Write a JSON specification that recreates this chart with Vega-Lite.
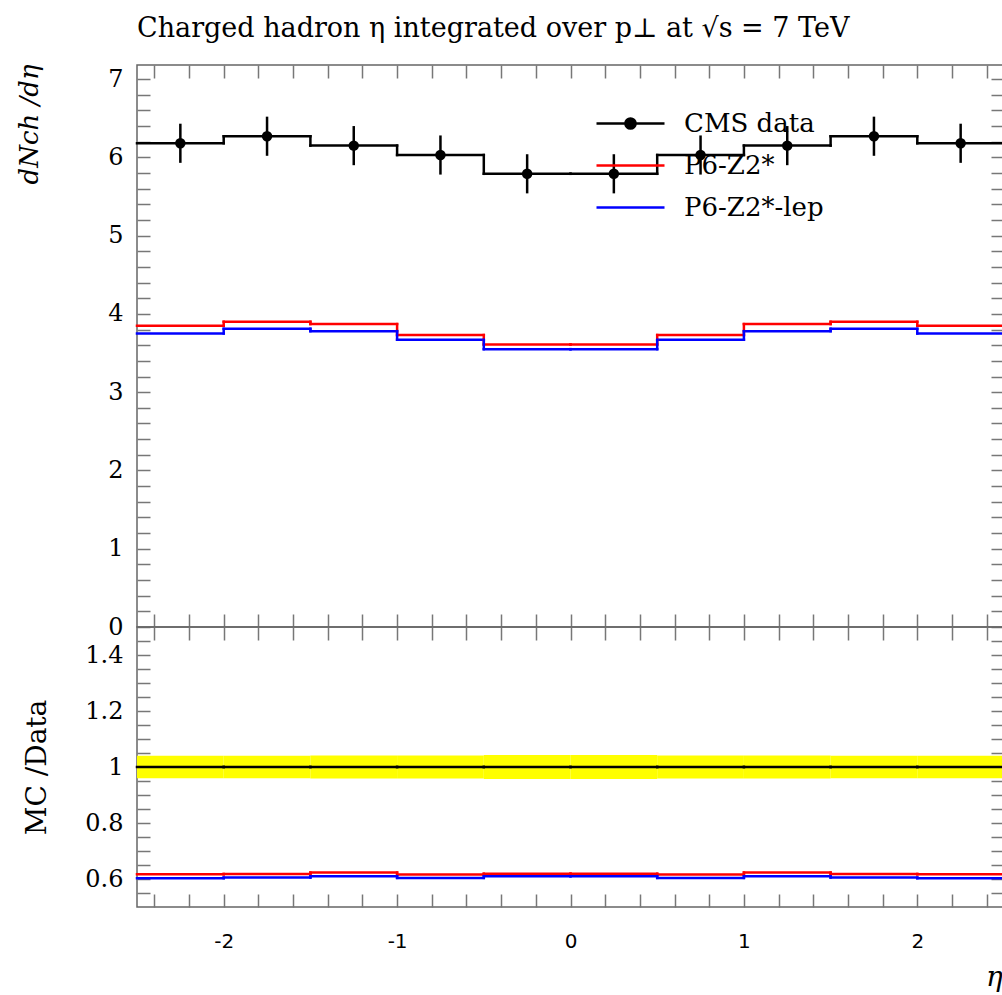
{
  "$schema": "https://vega.github.io/schema/vega-lite/v6.json",
  "background": "white",
  "padding": {"left": 15, "top": 14, "right": 0, "bottom": 0},
  "config": {
    "view": {"stroke": "#666666", "strokeWidth": 1.5},
    "axis": {"tickColor": "#777777", "tickWidth": 1.5, "minExtent": 0, "grid": false, "domain": false},
    "font": "DejaVu Serif"
  },
  "datasets": {
    "hist": [
      {"series": "P6-Z2*", "lo": -2.5, "hi": -2.0, "val": 3.85, "next": 3.90},
      {"series": "P6-Z2*", "lo": -2.0, "hi": -1.5, "val": 3.90, "next": 3.87},
      {"series": "P6-Z2*", "lo": -1.5, "hi": -1.0, "val": 3.87, "next": 3.73},
      {"series": "P6-Z2*", "lo": -1.0, "hi": -0.5, "val": 3.73, "next": 3.61},
      {"series": "P6-Z2*", "lo": -0.5, "hi": 0.0, "val": 3.61, "next": 3.61},
      {"series": "P6-Z2*", "lo": 0.0, "hi": 0.5, "val": 3.61, "next": 3.73},
      {"series": "P6-Z2*", "lo": 0.5, "hi": 1.0, "val": 3.73, "next": 3.87},
      {"series": "P6-Z2*", "lo": 1.0, "hi": 1.5, "val": 3.87, "next": 3.90},
      {"series": "P6-Z2*", "lo": 1.5, "hi": 2.0, "val": 3.90, "next": 3.85},
      {"series": "P6-Z2*", "lo": 2.0, "hi": 2.5, "val": 3.85, "next": null},
      {"series": "P6-Z2*-lep", "lo": -2.5, "hi": -2.0, "val": 3.75, "next": 3.81},
      {"series": "P6-Z2*-lep", "lo": -2.0, "hi": -1.5, "val": 3.81, "next": 3.78},
      {"series": "P6-Z2*-lep", "lo": -1.5, "hi": -1.0, "val": 3.78, "next": 3.67},
      {"series": "P6-Z2*-lep", "lo": -1.0, "hi": -0.5, "val": 3.67, "next": 3.55},
      {"series": "P6-Z2*-lep", "lo": -0.5, "hi": 0.0, "val": 3.55, "next": 3.55},
      {"series": "P6-Z2*-lep", "lo": 0.0, "hi": 0.5, "val": 3.55, "next": 3.67},
      {"series": "P6-Z2*-lep", "lo": 0.5, "hi": 1.0, "val": 3.67, "next": 3.78},
      {"series": "P6-Z2*-lep", "lo": 1.0, "hi": 1.5, "val": 3.78, "next": 3.81},
      {"series": "P6-Z2*-lep", "lo": 1.5, "hi": 2.0, "val": 3.81, "next": 3.75},
      {"series": "P6-Z2*-lep", "lo": 2.0, "hi": 2.5, "val": 3.75, "next": null},
      {"series": "CMS data", "lo": -2.5, "hi": -2.0, "val": 6.18, "next": 6.27},
      {"series": "CMS data", "lo": -2.0, "hi": -1.5, "val": 6.27, "next": 6.15},
      {"series": "CMS data", "lo": -1.5, "hi": -1.0, "val": 6.15, "next": 6.03},
      {"series": "CMS data", "lo": -1.0, "hi": -0.5, "val": 6.03, "next": 5.79},
      {"series": "CMS data", "lo": -0.5, "hi": 0.0, "val": 5.79, "next": 5.79},
      {"series": "CMS data", "lo": 0.0, "hi": 0.5, "val": 5.79, "next": 6.03},
      {"series": "CMS data", "lo": 0.5, "hi": 1.0, "val": 6.03, "next": 6.15},
      {"series": "CMS data", "lo": 1.0, "hi": 1.5, "val": 6.15, "next": 6.27},
      {"series": "CMS data", "lo": 1.5, "hi": 2.0, "val": 6.27, "next": 6.18},
      {"series": "CMS data", "lo": 2.0, "hi": 2.5, "val": 6.18, "next": null}
    ],
    "pts": [
      {"eta": -2.25, "val": 6.18, "ylo": 5.93, "yhi": 6.43},
      {"eta": -1.75, "val": 6.27, "ylo": 6.02, "yhi": 6.52},
      {"eta": -1.25, "val": 6.15, "ylo": 5.90, "yhi": 6.40},
      {"eta": -0.75, "val": 6.03, "ylo": 5.78, "yhi": 6.28},
      {"eta": -0.25, "val": 5.79, "ylo": 5.54, "yhi": 6.04},
      {"eta": 0.25, "val": 5.79, "ylo": 5.54, "yhi": 6.04},
      {"eta": 0.75, "val": 6.03, "ylo": 5.78, "yhi": 6.28},
      {"eta": 1.25, "val": 6.15, "ylo": 5.90, "yhi": 6.40},
      {"eta": 1.75, "val": 6.27, "ylo": 6.02, "yhi": 6.52},
      {"eta": 2.25, "val": 6.18, "ylo": 5.93, "yhi": 6.43}
    ],
    "ratio": [
      {"series": "CMS data", "lo": -2.5, "hi": -2.0, "val": 1, "next": 1, "elo": 0.960, "ehi": 1.040},
      {"series": "CMS data", "lo": -2.0, "hi": -1.5, "val": 1, "next": 1, "elo": 0.960, "ehi": 1.040},
      {"series": "CMS data", "lo": -1.5, "hi": -1.0, "val": 1, "next": 1, "elo": 0.959, "ehi": 1.041},
      {"series": "CMS data", "lo": -1.0, "hi": -0.5, "val": 1, "next": 1, "elo": 0.959, "ehi": 1.041},
      {"series": "CMS data", "lo": -0.5, "hi": 0.0, "val": 1, "next": 1, "elo": 0.957, "ehi": 1.043},
      {"series": "CMS data", "lo": 0.0, "hi": 0.5, "val": 1, "next": 1, "elo": 0.957, "ehi": 1.043},
      {"series": "CMS data", "lo": 0.5, "hi": 1.0, "val": 1, "next": 1, "elo": 0.959, "ehi": 1.041},
      {"series": "CMS data", "lo": 1.0, "hi": 1.5, "val": 1, "next": 1, "elo": 0.959, "ehi": 1.041},
      {"series": "CMS data", "lo": 1.5, "hi": 2.0, "val": 1, "next": 1, "elo": 0.960, "ehi": 1.040},
      {"series": "CMS data", "lo": 2.0, "hi": 2.5, "val": 1, "next": null, "elo": 0.960, "ehi": 1.040},
      {"series": "P6-Z2*", "lo": -2.5, "hi": -2.0, "val": 0.617, "next": 0.618},
      {"series": "P6-Z2*", "lo": -2.0, "hi": -1.5, "val": 0.618, "next": 0.623},
      {"series": "P6-Z2*", "lo": -1.5, "hi": -1.0, "val": 0.623, "next": 0.616},
      {"series": "P6-Z2*", "lo": -1.0, "hi": -0.5, "val": 0.616, "next": 0.619},
      {"series": "P6-Z2*", "lo": -0.5, "hi": 0.0, "val": 0.619, "next": 0.619},
      {"series": "P6-Z2*", "lo": 0.0, "hi": 0.5, "val": 0.619, "next": 0.616},
      {"series": "P6-Z2*", "lo": 0.5, "hi": 1.0, "val": 0.616, "next": 0.623},
      {"series": "P6-Z2*", "lo": 1.0, "hi": 1.5, "val": 0.623, "next": 0.618},
      {"series": "P6-Z2*", "lo": 1.5, "hi": 2.0, "val": 0.618, "next": 0.617},
      {"series": "P6-Z2*", "lo": 2.0, "hi": 2.5, "val": 0.617, "next": null},
      {"series": "P6-Z2*-lep", "lo": -2.5, "hi": -2.0, "val": 0.603, "next": 0.605},
      {"series": "P6-Z2*-lep", "lo": -2.0, "hi": -1.5, "val": 0.605, "next": 0.610},
      {"series": "P6-Z2*-lep", "lo": -1.5, "hi": -1.0, "val": 0.610, "next": 0.604},
      {"series": "P6-Z2*-lep", "lo": -1.0, "hi": -0.5, "val": 0.604, "next": 0.610},
      {"series": "P6-Z2*-lep", "lo": -0.5, "hi": 0.0, "val": 0.610, "next": 0.610},
      {"series": "P6-Z2*-lep", "lo": 0.0, "hi": 0.5, "val": 0.610, "next": 0.604},
      {"series": "P6-Z2*-lep", "lo": 0.5, "hi": 1.0, "val": 0.604, "next": 0.610},
      {"series": "P6-Z2*-lep", "lo": 1.0, "hi": 1.5, "val": 0.610, "next": 0.605},
      {"series": "P6-Z2*-lep", "lo": 1.5, "hi": 2.0, "val": 0.605, "next": 0.603},
      {"series": "P6-Z2*-lep", "lo": 2.0, "hi": 2.5, "val": 0.603, "next": null}
    ]
  },
  "vconcat": [
    {
      "width": 867,
      "height": 562,
      "title": {"text": "Charged hadron η integrated over p⊥ at √s = 7 TeV", "anchor": "start", "frame": "group", "font": "DejaVu Serif", "fontSize": 27, "fontWeight": "normal", "color": "black", "baseline": "alphabetic", "offset": 0},
      "resolve": {"axis": {"x": "independent", "y": "independent"}},
      "layer": [
        {
          "data": {"name": "hist"},
          "mark": {"type": "rule", "strokeWidth": 2.5, "strokeCap": "square"},
          "encoding": {
            "x": {"field": "lo", "type": "quantitative", "scale": {"domain": [-2.5, 2.5], "nice": false, "zero": false},
              "axis": {"orient": "bottom", "values": [-2.4,-2.2,-2,-1.8,-1.6,-1.4,-1.2,-1,-0.8,-0.6,-0.4,-0.2,0,0.2,0.4,0.6,0.8,1,1.2,1.4,1.6,1.8,2,2.2,2.4], "labels": false, "title": null, "ticks": true, "tickSize": -13,
                "encode": {"ticks": {"update": {"y2": {"signal": "abs(datum.value-round(datum.value))<0.01 ? -30 : -13"}}}}}},
            "x2": {"field": "hi"},
            "y": {"field": "val", "type": "quantitative", "scale": {"domain": [0, 7.18], "nice": false, "zero": false},
              "axis": {"orient": "left", "values": [0,0.2,0.4,0.6,0.8,1,1.2,1.4,1.6,1.8,2,2.2,2.4,2.6,2.8,3,3.2,3.4,3.6,3.8,4,4.2,4.4,4.6,4.8,5,5.2,5.4,5.6,5.8,6,6.2,6.4,6.6,6.8,7], "ticks": true, "tickSize": -13, "labelPadding": 27,
                "labelExpr": "abs(datum.value-round(datum.value))<0.01 ? ''+round(datum.value) : ''",
                "labelFont": "DejaVu Serif", "labelFontSize": 24, "labelColor": "black", "labelOverlap": false, "labelFlush": false, "labelBound": false,
                "title": "dNch /dη", "titleFont": "DejaVu Serif", "titleFontSize": 26, "titleFontStyle": "italic", "titleFontWeight": "normal", "titleColor": "black",
                "titleAngle": 270, "titleAlign": "right", "titleBaseline": "middle", "titleX": -108, "titleY": -1,
                "encode": {"ticks": {"update": {"x2": {"signal": "abs(datum.value-round(datum.value))<0.01 ? 27 : 13"}}}}}},
            "color": {"field": "series", "type": "nominal",
              "scale": {"domain": ["CMS data", "P6-Z2*", "P6-Z2*-lep"], "range": ["#000000", "#ff0000", "#0000ff"]},
              "legend": {"orient": "none", "legendX": 475, "legendY": 40, "title": null, "padding": 0,
                "labelFont": "DejaVu Serif", "labelFontSize": 26, "labelColor": "black", "labelOffset": 35,
                "symbolType": "M-2,0H2", "symbolSize": 1156, "symbolStrokeWidth": 2.5, "rowPadding": 10,
                "encode": {"symbols": {"update": {
                  "shape": {"signal": "datum.value === 'CMS data' ? 'M-2,0H2M-0.3,0A0.3,0.3,0,1,0,0.3,0A0.3,0.3,0,1,0,-0.3,0' : 'M-2,0H2'"},
                  "fill": {"value": "black"}, "fillOpacity": {"value": 1}}}}}}
          }
        },
        {
          "data": {"name": "hist"},
          "transform": [{"filter": "datum.next != null"}],
          "mark": {"type": "rule", "strokeWidth": 2.5, "strokeCap": "square"},
          "encoding": {
            "x": {"field": "hi", "type": "quantitative", "scale": {"domain": [-2.5, 2.5], "nice": false, "zero": false},
              "axis": {"orient": "top", "values": [-2.4,-2.2,-2,-1.8,-1.6,-1.4,-1.2,-1,-0.8,-0.6,-0.4,-0.2,0,0.2,0.4,0.6,0.8,1,1.2,1.4,1.6,1.8,2,2.2,2.4], "labels": false, "title": null, "ticks": true, "tickSize": -13,
                "encode": {"ticks": {"update": {"y2": {"signal": "abs(datum.value-round(datum.value))<0.01 ? 30 : 13"}}}}}},
            "y": {"field": "val", "type": "quantitative", "scale": {"domain": [0, 7.18], "nice": false, "zero": false},
              "axis": {"orient": "right", "values": [0,0.2,0.4,0.6,0.8,1,1.2,1.4,1.6,1.8,2,2.2,2.4,2.6,2.8,3,3.2,3.4,3.6,3.8,4,4.2,4.4,4.6,4.8,5,5.2,5.4,5.6,5.8,6,6.2,6.4,6.6,6.8,7], "labels": false, "title": null, "ticks": true, "tickSize": -13,
                "encode": {"ticks": {"update": {"x2": {"signal": "abs(datum.value-round(datum.value))<0.01 ? -27 : -13"}}}}}},
            "y2": {"field": "next"},
            "color": {"field": "series", "type": "nominal",
              "scale": {"domain": ["CMS data", "P6-Z2*", "P6-Z2*-lep"], "range": ["#000000", "#ff0000", "#0000ff"]}, "legend": null}
          }
        },
        {
          "data": {"name": "pts"},
          "mark": {"type": "rule", "strokeWidth": 2.5, "color": "black"},
          "encoding": {
            "x": {"field": "eta", "type": "quantitative", "axis": null},
            "y": {"field": "ylo", "type": "quantitative", "axis": null},
            "y2": {"field": "yhi"}
          }
        },
        {
          "data": {"name": "pts"},
          "mark": {"type": "circle", "size": 110, "color": "black", "opacity": 1},
          "encoding": {
            "x": {"field": "eta", "type": "quantitative", "axis": null},
            "y": {"field": "val", "type": "quantitative", "axis": null}
          }
        }
      ]
    },
    {
      "width": 867,
      "height": 280,
      "resolve": {"axis": {"x": "independent", "y": "independent"}},
      "layer": [
        {
          "data": {"name": "ratio"},
          "transform": [{"filter": "datum.series === 'CMS data'"}],
          "mark": {"type": "rect", "color": "#ffff00", "opacity": 1},
          "encoding": {
            "x": {"field": "lo", "type": "quantitative", "scale": {"domain": [-2.5, 2.5], "nice": false, "zero": false},
              "axis": {"orient": "bottom", "values": [-2.4,-2.2,-2,-1.8,-1.6,-1.4,-1.2,-1,-0.8,-0.6,-0.4,-0.2,0,0.2,0.4,0.6,0.8,1,1.2,1.4,1.6,1.8,2,2.2,2.4], "ticks": true, "tickSize": -13, "labelPadding": 37,
                "labelExpr": "abs(datum.value-round(datum.value))<0.01 ? ''+round(datum.value) : ''",
                "labelFont": "DejaVu Sans", "labelFontSize": 20, "labelColor": "black", "labelOverlap": false, "labelFlush": false, "labelBound": false,
                "title": "η", "titleFont": "DejaVu Serif", "titleFontSize": 28, "titleFontStyle": "italic", "titleFontWeight": "normal", "titleColor": "black",
                "titleX": 857, "titleY": 70, "titleAlign": "center", "titleBaseline": "middle",
                "encode": {"ticks": {"update": {"y2": {"signal": "abs(datum.value-round(datum.value))<0.01 ? -30 : -13"}}}}}},
            "x2": {"field": "hi"},
            "y": {"field": "elo", "type": "quantitative", "scale": {"domain": [0.5, 1.5], "nice": false, "zero": false},
              "axis": {"orient": "left", "values": [0.55,0.6,0.65,0.7,0.75,0.8,0.85,0.9,0.95,1,1.05,1.1,1.15,1.2,1.25,1.3,1.35,1.4,1.45], "ticks": true, "tickSize": -13, "labelPadding": 27,
                "labelExpr": "abs(datum.value*5-round(datum.value*5))<0.01 ? format(datum.value, '~g') : ''",
                "labelFont": "DejaVu Serif", "labelFontSize": 24, "labelColor": "black", "labelOverlap": false, "labelFlush": false, "labelBound": false,
                "title": "MC /Data", "titleFont": "DejaVu Serif", "titleFontSize": 28, "titleFontWeight": "normal", "titleColor": "black",
                "titleAngle": 270, "titleAlign": "center", "titleBaseline": "middle", "titleX": -100, "titleY": 140,
                "encode": {"ticks": {"update": {"x2": {"signal": "abs(datum.value*5-round(datum.value*5))<0.01 ? 27 : 13"}}}}}},
            "y2": {"field": "ehi"}
          }
        },
        {
          "data": {"name": "ratio"},
          "mark": {"type": "rule", "strokeWidth": 2.5, "strokeCap": "square"},
          "encoding": {
            "x": {"field": "lo", "type": "quantitative", "scale": {"domain": [-2.5, 2.5], "nice": false, "zero": false},
              "axis": {"orient": "top", "values": [-2.4,-2.2,-2,-1.8,-1.6,-1.4,-1.2,-1,-0.8,-0.6,-0.4,-0.2,0,0.2,0.4,0.6,0.8,1,1.2,1.4,1.6,1.8,2,2.2,2.4], "labels": false, "title": null, "ticks": true, "tickSize": -13,
                "encode": {"ticks": {"update": {"y2": {"signal": "abs(datum.value-round(datum.value))<0.01 ? 30 : 13"}}}}}},
            "x2": {"field": "hi"},
            "y": {"field": "val", "type": "quantitative", "scale": {"domain": [0.5, 1.5], "nice": false, "zero": false},
              "axis": {"orient": "right", "values": [0.55,0.6,0.65,0.7,0.75,0.8,0.85,0.9,0.95,1,1.05,1.1,1.15,1.2,1.25,1.3,1.35,1.4,1.45], "labels": false, "title": null, "ticks": true, "tickSize": -13,
                "encode": {"ticks": {"update": {"x2": {"signal": "abs(datum.value*5-round(datum.value*5))<0.01 ? -27 : -13"}}}}}},
            "color": {"field": "series", "type": "nominal",
              "scale": {"domain": ["CMS data", "P6-Z2*", "P6-Z2*-lep"], "range": ["#000000", "#ff0000", "#0000ff"]}, "legend": null}
          }
        },
        {
          "data": {"name": "ratio"},
          "transform": [{"filter": "datum.next != null"}],
          "mark": {"type": "rule", "strokeWidth": 2.5, "strokeCap": "square"},
          "encoding": {
            "x": {"field": "hi", "type": "quantitative", "axis": null},
            "y": {"field": "val", "type": "quantitative", "axis": null},
            "y2": {"field": "next"},
            "color": {"field": "series", "type": "nominal",
              "scale": {"domain": ["CMS data", "P6-Z2*", "P6-Z2*-lep"], "range": ["#000000", "#ff0000", "#0000ff"]}, "legend": null}
          }
        }
      ]
    }
  ],
  "spacing": 0,
  "bounds": "flush",
  "resolve": {"scale": {"color": "independent"}, "legend": {"color": "independent"}}
}
